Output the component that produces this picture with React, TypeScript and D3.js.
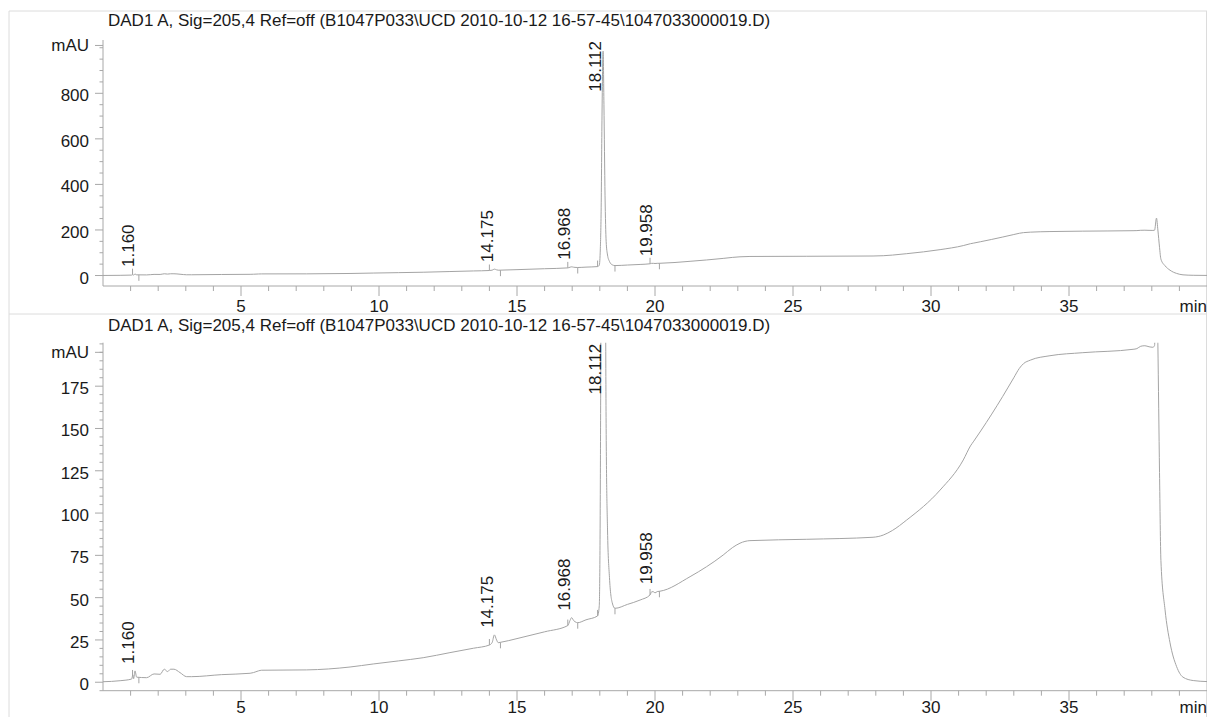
import React from "react";
import * as d3 from "d3";

// chromatogram trace (minutes, mAU)
const times = [
  0.0, 0.62, 1.04, 1.08, 1.11, 1.16, 1.22, 1.58, 1.85, 2.07, 2.22, 2.34, 2.45, 2.57, 2.79, 3.03, 3.21,
  4.3, 5.33, 5.45, 5.63, 5.75, 7.38, 8.95, 9.79, 10.7, 11.6, 12.57, 13.42, 14.0, 14.1, 14.18, 14.26,
  14.32, 14.4, 15.0, 16.0, 16.84, 16.92, 16.98, 17.05, 17.1, 17.2, 17.5, 17.92, 17.98, 18.02, 18.05,
  18.08, 18.12, 18.15, 18.19, 18.23, 18.28, 18.35, 18.45, 18.55, 19.0, 19.46, 19.82, 19.88, 19.94,
  20.0, 20.08, 20.18, 21.27, 22.47, 22.8, 23.08, 23.44, 25.5, 27.9, 28.27, 28.6, 29.12, 30.33, 31.17,
  31.43, 31.55, 31.8, 32.2, 32.6, 33.0, 33.2, 33.35, 33.6, 34.31, 35.5, 37.32, 37.46, 37.6, 37.75, 37.9,
  38.04, 38.1, 38.17, 38.22, 38.28, 38.33, 38.48, 38.66, 38.9, 39.13, 39.5, 40.0,
];
const signal = [
  0.3, 0.9, 1.9, 4.3, 2.1, 6.7, 3.0, 2.7, 4.9, 4.7, 7.7, 6.3, 7.7, 7.7, 5.7, 3.3, 3.3,
  4.5, 5.3, 5.7, 6.7, 7.1, 7.3, 9.0, 10.8, 12.6, 14.5, 17.5, 20.1, 22.0, 23.5, 28.0, 25.0,
  23.4, 23.6, 25.8, 29.8, 33.5, 36.5, 38.2, 36.5, 35.8, 35.2, 36.9, 39.2, 45, 120, 300,
  700, 985, 750, 350, 150, 90, 62, 47, 43.7, 46.0, 48.6, 51.6, 53.5, 53.5,
  52.8, 53.6, 53.8, 62.4, 75.2, 79.5, 82.2, 83.7, 84.5, 85.7, 87.0, 89.7, 95.9, 113.6, 131.4,
  139.7, 142.5, 148.5, 158.5, 169.0, 180.0, 185.5, 188.3, 190.4, 193.0, 194.8, 196.8, 197.2, 198.6, 198.9, 198.3,
  198.0, 199.0, 252, 200, 124, 72, 42.8, 23.3, 9.2, 3.0, 1.0, 0.4,
];

// integrated peaks
const peakTimes = [1.16, 14.175, 16.968, 18.112, 19.958];
const peakStarts = [1.07, 14.0, 16.84, 17.92, 19.82];
const peakEnds = [1.3, 14.4, 17.2, 18.55, 20.16];

const title = "DAD1 A, Sig=205,4 Ref=off (B1047P033\\UCD 2010-10-12 16-57-45\\1047033000019.D)";

const xMajor = [5, 10, 15, 20, 25, 30, 35];

const W = 1209;
const H = 717;
const FONT = "'Liberation Sans', Arial, Helvetica, sans-serif";
const FS = 17;
const AXIS = "#a8a8a8";
const TRACE = "#a4a4a4";
const TEXT = "#1a1a1a";

const x = d3.scaleLinear().domain([0, 40]).range([103, 1207]);

const points = times.map((t, i) => [t, signal[i]] as [number, number]);
const bis = d3.bisector((d: [number, number]) => d[0]).left;
function valueAt(t: number) {
  const i = Math.max(1, Math.min(points.length - 1, bis(points, t)));
  const a = points[i - 1];
  const b = points[i];
  return a[1] + ((t - a[0]) / (b[0] - a[0])) * (b[1] - a[1]);
}
function apexOf(k: number) {
  let m = Math.max(valueAt(peakStarts[k]), valueAt(peakEnds[k]));
  points.forEach((p) => {
    if (p[0] >= peakStarts[k] && p[0] <= peakEnds[k]) m = Math.max(m, p[1]);
  });
  return m;
}

type PanelProps = {
  id: string;
  titleY: number;
  top: number;
  bottom: number;
  labelDy: number;
  yDomain: [number, number];
  yMajor: number[];
  minorStep: number;
  mauAt: number;
};

function Panel(p: PanelProps) {
  const y = d3.scaleLinear().domain(p.yDomain).range([p.bottom, p.top]);
  const line = d3
    .line<[number, number]>()
    .x((d) => x(d[0]))
    .y((d) => y(d[1]))
    .curve(d3.curveMonotoneX);

  const minor = d3
    .range(Math.ceil(p.yDomain[0] / p.minorStep) * p.minorStep, p.yDomain[1] + 0.01, p.minorStep)
    .filter((v) => !p.yMajor.includes(v));
  const xMinor = d3.range(1, 40).filter((v) => v % 5 !== 0);

  return (
    <g>
      <text x={108} y={p.titleY} fontSize={FS} fill={TEXT}>
        {title}
      </text>
      <defs>
        <clipPath id={p.id}>
          <rect x={x(0)} y={p.top} width={x(40) - x(0)} height={p.bottom - p.top} />
        </clipPath>
      </defs>

      {/* y axis */}
      <line x1={x(0)} x2={x(0)} y1={p.top} y2={p.bottom} stroke={AXIS} />
      {minor.map((v) => (
        <line key={"ym" + v} x1={x(0) - 3.5} x2={x(0)} y1={y(v)} y2={y(v)} stroke={AXIS} />
      ))}
      {p.yMajor.map((v) => (
        <g key={"yM" + v}>
          <line x1={x(0) - 8} x2={x(0)} y1={y(v)} y2={y(v)} stroke={AXIS} />
          <text x={x(0) - 14} y={y(v) + 8} fontSize={FS} textAnchor="end" fill={TEXT}>
            {v}
          </text>
        </g>
      ))}
      <line x1={x(0) - 8} x2={x(0)} y1={y(p.mauAt)} y2={y(p.mauAt)} stroke={AXIS} />
      <text x={x(0) - 14} y={y(p.mauAt) + 6} fontSize={FS} textAnchor="end" fill={TEXT}>
        mAU
      </text>

      {/* x axis */}
      <line x1={x(0)} x2={x(40)} y1={p.bottom} y2={p.bottom} stroke={AXIS} />
      {xMinor.map((v) => (
        <line key={"xm" + v} x1={x(v)} x2={x(v)} y1={p.bottom} y2={p.bottom + 5} stroke={AXIS} />
      ))}
      {xMajor.map((v) => (
        <g key={"xM" + v}>
          <line x1={x(v)} x2={x(v)} y1={p.bottom} y2={p.bottom + 10} stroke={AXIS} />
          <text x={x(v)} y={p.bottom + p.labelDy} fontSize={FS} textAnchor="middle" fill={TEXT}>
            {v}
          </text>
        </g>
      ))}
      <text x={x(40)} y={p.bottom + p.labelDy} fontSize={FS} textAnchor="end" fill={TEXT}>
        min
      </text>

      {/* trace */}
      <g clipPath={`url(#${p.id})`}>
        <path d={line(points) || ""} fill="none" stroke={TRACE} strokeWidth={1} />
        {peakStarts.map((t, k) => (
          <line key={"ps" + k} x1={x(t)} x2={x(t)} y1={y(valueAt(t))} y2={y(valueAt(t)) - 6} stroke={TRACE} />
        ))}
        {peakEnds.map((t, k) => (
          <line key={"pe" + k} x1={x(t)} x2={x(t)} y1={y(valueAt(t))} y2={y(valueAt(t)) + 6} stroke={TRACE} />
        ))}
      </g>

      {/* peak labels */}
      {peakTimes.map((t, k) => {
        const lx = x(t) - 1.5;
        const ly = y(apexOf(k)) - 7;
        const clipped = ly - 52 < p.top + 2;
        return (
          <text
            key={"pl" + k}
            transform={`translate(${lx},${clipped ? p.top + 1 : ly}) rotate(-90)`}
            fontSize={FS}
            textAnchor={clipped ? "end" : "start"}
            fill={TEXT}
          >
            {t.toFixed(3)}
          </text>
        );
      })}
    </g>
  );
}

export default function App() {
  return (
    <svg
      width={W}
      height={H}
      style={{ position: "absolute", left: 0, top: 0, display: "block", background: "#fff" }}
      fontFamily={FONT}
    >
      <rect width={W} height={H} fill="#fff" />
      {/* frame */}
      <line x1={9} x2={1207} y1={11} y2={11} stroke="#dcdcdc" />
      <line x1={9} x2={1207} y1={314} y2={314} stroke="#dcdcdc" />
      <line x1={9} x2={9} y1={11} y2={H} stroke="#dcdcdc" />
      <line x1={1206.5} x2={1206.5} y1={11} y2={H} stroke="#dcdcdc" />

      <Panel
        id="clipTop"
        titleY={25.5}
        top={40}
        bottom={286}
        labelDy={25.5}
        yDomain={[-46, 1034]}
        yMajor={[0, 200, 400, 600, 800]}
        minorStep={50}
        mauAt={1010}
      />
      <Panel
        id="clipBottom"
        titleY={331}
        top={342.7}
        bottom={690.7}
        labelDy={22.5}
        yDomain={[-5, 200.7]}
        yMajor={[0, 25, 50, 75, 100, 125, 150, 175]}
        minorStep={5}
        mauAt={195}
      />
    </svg>
  );
}
